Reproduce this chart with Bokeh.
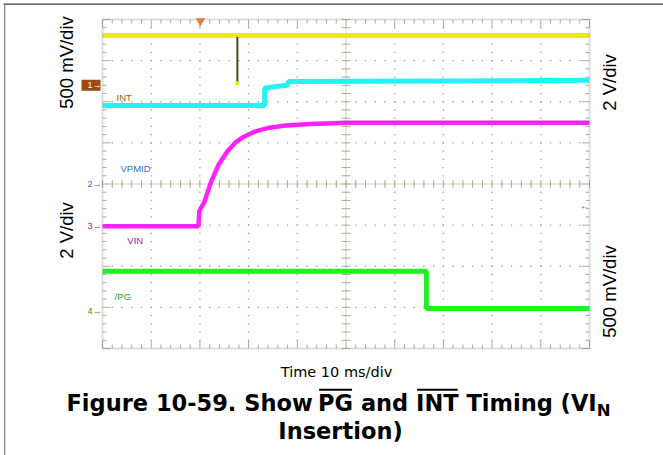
import numpy as np
from math import pi
from bokeh.plotting import figure
from bokeh.models import Range1d, Label, BoxAnnotation, ColumnDataSource
from bokeh.core.properties import value
from bokeh.embed import file_html
from bokeh.resources import INLINE

# ---------------- data: time in ms (10 ms/div), amplitude in graticule divisions (0 = centre) ----
time_range = [-50, 50]
div_range = [-4, 4]

ch1_t = [-50, 50]                      # yellow trace
ch1_v = [3.61, 3.61]
glitch_t = [-22.3]
glitch_top = [3.58]
glitch_bottom = [2.45]

int_t = [-50, -16.7, -16.7, -14.5, -12.0, -11.8, 50]          # cyan INT
int_v = [1.91, 1.91, 2.33, 2.37, 2.40, 2.49, 2.52]

vin_t = [-50, -30.3, -30.1, -29.1, -27.8, -26.2, -24.3, -22.7, -21.0, -18.6, -16.1, -12.4, -7.3, 0, 50]
vin_v = [-1.03, -1.03, -0.65, -0.44, 0.02, 0.46, 0.80, 1.01, 1.15, 1.28, 1.36, 1.42, 1.46, 1.49, 1.49]

pg_t = [-50, 16.5, 16.5, 50]                                  # green /PG
pg_v = [-2.12, -2.12, -3.03, -3.03]

trigger_t = [-29.9]

trace_names = ["INT", "VPMID", "VIN", "/PG"]
trace_name_t = [-47.1, -46.3, -44.9, -47.5]
trace_name_v = [2.11, 0.385, -1.375, -2.74]

channel_ids = ["1", "2", "3", "4"]
channel_ref_v = [2.40, 0.0, -1.03, -3.08]
channel3_right_v = -0.52

scale_left = ["500 mV/div", "2 V/div"]
scale_right = ["2 V/div", "500 mV/div"]
x_scale_text = "Time 10 ms/div"
title_line1 = ["Figure 10-59. Show", "PG", "and", "INT", "Timing (VI", "N"]
title_space_after = [True, True, True, True, False, False]
title_overlined = [False, True, False, True, False, False]
title_line2 = "Insertion)"

# ---------------- layout (page pixels) ----------------
W, H = 663, 455
FL, FT, FW, FH = 102.0, 19.0, 487.0, 329.0   # graticule position on the page

def tx(px):
    return time_range[0] + (px - FL) / FW * (time_range[1] - time_range[0])

def vy(py):
    return div_range[1] - (py - FT) / FH * (div_range[1] - div_range[0])

DT = (time_range[1] - time_range[0]) / FW     # ms per pixel
DV = (div_range[1] - div_range[0]) / FH       # div per pixel

p = figure(width=W, height=H, x_range=Range1d(tx(0), tx(W)), y_range=Range1d(vy(H), vy(0)),
           output_backend="svg", toolbar_location=None, title=None,
           x_axis_type=None, y_axis_type=None,
           min_border_left=0, min_border_right=0, min_border_top=0, min_border_bottom=0)
p.background_fill_color = "white"
p.border_fill_color = "white"
p.outline_line_color = None
p.xgrid.visible = False
p.ygrid.visible = False

TICK = "#b3ab96"
DOT = "#a0a0a0"
xmajor = np.arange(time_range[0], time_range[1] + 0.1, 10.0)
xminor = np.arange(time_range[0], time_range[1] + 0.1, 2.0)
ymajor = np.arange(div_range[0], div_range[1] + 0.01, 1.0)
yminor = np.arange(div_range[0], div_range[1] + 0.01, 0.2)

# graticule dots
gx, gy = [], []
for xm in xmajor[1:-1]:
    for ym in yminor[1:-1]:
        gx.append(xm); gy.append(ym)
for ym in ymajor[1:-1]:
    for xm in xminor[1:-1]:
        gx.append(xm); gy.append(ym)
p.scatter(x=gx, y=gy, marker="square", size=1.3, fill_color=DOT, line_color=None)

# edge ticks (inward)
def is_major(v, step):
    return abs(v / step - round(v / step)) < 1e-6

xl = [8 if is_major(x, 10.0) else 4 for x in xminor]
yl = [8 if is_major(y, 1.0) else 4 for y in yminor]
n = len(xminor)
p.segment(x0=xminor, y0=[div_range[0]] * n, x1=xminor,
          y1=[div_range[0] + l * DV for l in xl], line_color=TICK, line_width=1)
p.segment(x0=xminor, y0=[div_range[1]] * n, x1=xminor,
          y1=[div_range[1] - l * DV for l in xl], line_color=TICK, line_width=1)
m = len(yminor)
p.segment(x0=[time_range[0]] * m, y0=yminor, x1=[time_range[0] + l * DT for l in yl],
          y1=yminor, line_color=TICK, line_width=1)
p.segment(x0=[time_range[1]] * m, y0=yminor, x1=[time_range[1] - l * DT for l in yl],
          y1=yminor, line_color=TICK, line_width=1)

# centre cross with ticks
p.segment(x0=[time_range[0], 0], y0=[0, div_range[0]], x1=[time_range[1], 0], y1=[0, div_range[1]],
          line_color="#d8d3c6", line_width=1)
p.scatter(x=xminor, y=[0] * n, marker="dash", angle=pi / 2, size=8,
          line_color=TICK, line_width=1)
p.scatter(x=[0] * m, y=yminor, marker="dash", size=9, line_color=TICK, line_width=1)

# graticule outline
p.add_layout(BoxAnnotation(left=time_range[0], right=time_range[1], bottom=div_range[0],
                           top=div_range[1], fill_color=None, line_color="#939393",
                           line_width=2))

# ---------------- traces ----------------
p.line(ch1_t, ch1_v, line_color="#eded00", line_width=5)
p.segment(x0=glitch_t, y0=glitch_top, x1=glitch_t, y1=glitch_bottom,
          line_color="#4a4a16", line_width=2)
p.scatter(x=glitch_t, y=glitch_bottom, marker="square", size=3, color="#e8e800")
p.line(int_t, int_v, line_color="#22f3f3", line_width=5)
p.line(vin_t, vin_v, line_color="#ff20ff", line_width=4.5)
p.line(pg_t, pg_v, line_color="#22ee22", line_width=5)

p.scatter(x=trigger_t, y=[vy(20.5)], marker="inverted_triangle", size=8, color="#f07a3a")

label_colors = ["#b0580e", "#2f6fd0", "#a0229f", "#1f9f1f"]
src = ColumnDataSource(dict(x=trace_name_t, y=trace_name_v, text=trace_names, c=label_colors))
p.text(x="x", y="y", text="text", text_color="c", source=src,
       text_font=value("Liberation Sans"), text_font_size="9.5px",
       text_align="left", text_baseline="middle")

# channel reference markers (left of graticule)
p.add_layout(BoxAnnotation(left=tx(81), right=tx(100), top=channel_ref_v[0] + 5.5 * DV,
                           bottom=channel_ref_v[0] - 5.5 * DV, fill_color="#9a4a12",
                           fill_alpha=1, line_color=None))
for cid, cv, col in zip(channel_ids, channel_ref_v, ["white"] + label_colors[1:]):
    p.add_layout(Label(x=tx(101), y=cv, text=cid + "\u2192", text_align="right",
                       text_baseline="middle", text_color=col,
                       text_font="Liberation Sans", text_font_size="9px"))
p.add_layout(Label(x=tx(589.5), y=channel3_right_v, text="\u2190", text_align="right",
                   text_baseline="middle", text_color=label_colors[2],
                   text_font="Liberation Sans", text_font_size="10px"))

# ---------------- scale labels ----------------
for txt, py in zip(scale_left, [62, 230]):
    p.add_layout(Label(x=tx(66), y=vy(py), text=txt, angle=pi / 2, text_align="center",
                       text_baseline="middle", text_font="Liberation Sans",
                       text_font_size="18.5px", text_color="black"))
for txt, py in zip(scale_right, [82, 291]):
    p.add_layout(Label(x=tx(609), y=vy(py), text=txt, angle=pi / 2, text_align="center",
                       text_baseline="middle", text_font="Liberation Sans",
                       text_font_size="18.5px", text_color="black"))

p.add_layout(Label(x=tx(336), y=vy(371.5), text=x_scale_text, text_align="center",
                   text_baseline="middle", text_font="DejaVu Sans",
                   text_font_size="14.5px", text_color="black"))

# ---------------- caption ----------------
ADV = {" ": .348, "(": .458, ")": .458, "-": .415, ".": .380, "0": .696, "1": .696, "5": .696,
       "9": .696, "F": .575, "G": .821, "I": .372, "N": .837, "P": .733, "S": .720, "T": .682,
       "V": .774, "a": .675, "d": .716, "e": .678, "g": .716, "h": .712, "i": .343, "m": 1.042,
       "n": .712, "o": .687, "r": .493, "s": .595, "t": .478, "u": .712, "w": .924}
TFS, SFS = 22.5, 16.5
sizes = [TFS] * 5 + [SFS]
widths = [sum(ADV[c] for c in s) * fs for s, fs in zip(title_line1, sizes)]
gaps = [ADV[" "] * TFS if sp else 0.0 for sp in title_space_after]
x0 = 338 - (sum(widths) + sum(gaps)) / 2
mid1, mid_sub, mid2 = 402, 409.5, 430.5
xs = []
cur = x0
for w, g in zip(widths, gaps):
    xs.append(cur)
    cur += w + g
for i, s in enumerate(title_line1):
    sub = i == len(title_line1) - 1
    p.add_layout(Label(x=tx(xs[i]), y=vy(mid_sub if sub else mid1), text=s, text_align="left",
                       text_baseline="middle", text_font="DejaVu Sans",
                       text_font_style="bold", text_font_size=f"{sizes[i]}px",
                       text_color="black"))
    if title_overlined[i]:
        p.add_layout(BoxAnnotation(left=tx(xs[i] + 1), right=tx(xs[i] + widths[i] - 1),
                                   top=vy(388.3), bottom=vy(390.3), fill_color="black",
                                   fill_alpha=1, line_color=None))
p.add_layout(Label(x=tx(340), y=vy(mid2), text=title_line2, text_align="center",
                   text_baseline="middle", text_font="DejaVu Sans",
                   text_font_style="bold", text_font_size=f"{TFS}px", text_color="black"))

# page frame lines
p.add_layout(BoxAnnotation(left=tx(3), right=tx(663), top=vy(3), bottom=vy(4.3),
                           fill_color="#3c3c3c", fill_alpha=1, line_color=None))
p.add_layout(BoxAnnotation(left=tx(3.5), right=tx(4.8), top=vy(3), bottom=vy(455),
                           fill_color="#8a8a8a", fill_alpha=1, line_color=None))

open("out.html", "w").write(file_html(p, INLINE))
